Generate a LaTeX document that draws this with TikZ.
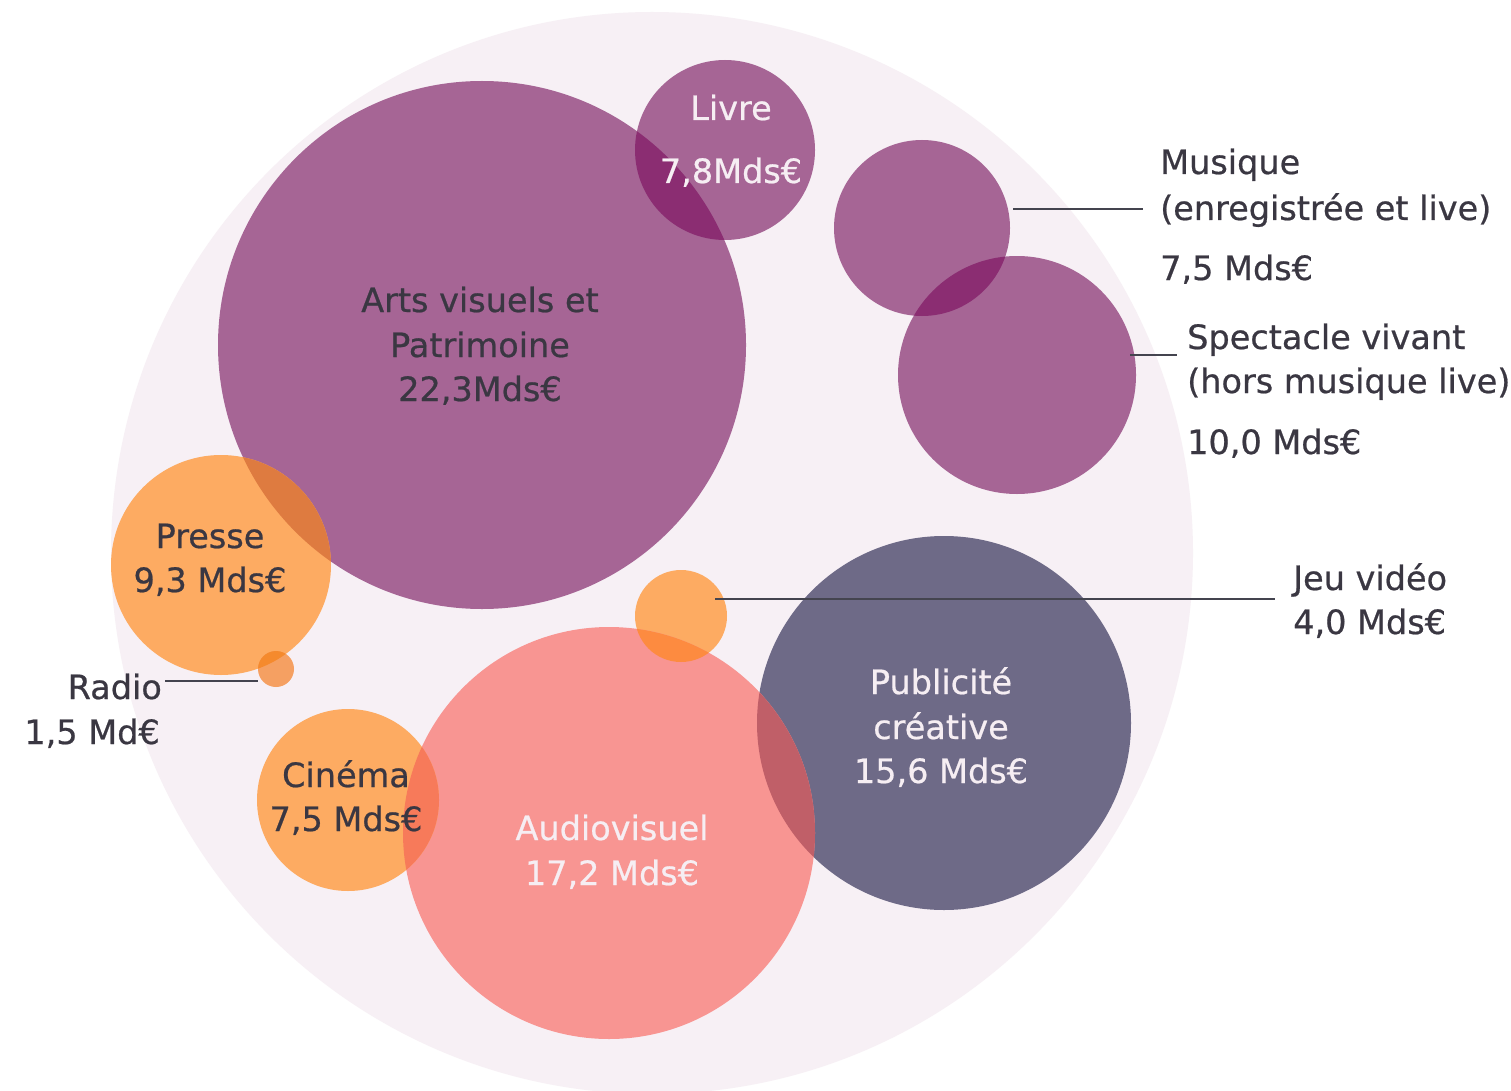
\documentclass[tikz,border=0pt]{standalone}
\usepackage{fontspec}
\setmainfont{DejaVu Sans}
\newfontfamily\medfont{DejaVu Sans}[UprightFeatures={FakeBold=0.6}]
\definecolor{bgpink}{HTML}{F7F0F5}
\definecolor{purp}{HTML}{A66595}
\definecolor{purpdark}{HTML}{8B2D72}
\definecolor{orng}{HTML}{FDAB62}
\definecolor{orngpurp}{HTML}{DE7B40}
\definecolor{radioc}{HTML}{F5A062}
\definecolor{radiopresse}{HTML}{F58A2D}
\definecolor{jeuaudio}{HTML}{FD8B40}
\definecolor{audio}{HTML}{F89592}
\definecolor{cineaudio}{HTML}{F77A5A}
\definecolor{pub}{HTML}{6E6A87}
\definecolor{pubaudio}{HTML}{C05F68}
\definecolor{txtdark}{HTML}{3A3742}
\definecolor{txtlight}{HTML}{F6EEF3}
\definecolor{leadc}{HTML}{44444F}
\newcommand{\bubblefont}{\medfont\fontsize{33.5}{45}\selectfont}
\begin{document}
\begin{tikzpicture}[x=1pt,y=-1pt,
  bubble/.style={circle, inner sep=0pt, minimum size=#1},
  lbl/.style={font=\bubblefont, text=txtdark, inner sep=0pt},
  lbllight/.style={lbl, text=txtlight},
  leader/.style={draw=leadc, line width=2.8pt}]
\useasboundingbox (0,0) rectangle (1511,1091);
\clip (0,0) rectangle (1511,1091);
\fill[white] (0,0) rectangle (1511,1091);
% background circle
\node[bubble=1082pt, fill=bgpink] (bg) at (652,553) {};
% bubbles
\node[bubble=528pt, fill=purp] (arts) at (482,345) {};
\node[bubble=180pt, fill=purp] (livre) at (725,150) {};
\node[bubble=176pt, fill=purp] (musique) at (922,228) {};
\node[bubble=238pt, fill=purp] (spectacle) at (1017,375) {};
\node[bubble=220pt, fill=orng] (presse) at (221,565) {};
\node[bubble=36pt, fill=radioc] (radio) at (276,669) {};
\node[bubble=92pt, fill=orng] (jeu) at (681,616) {};
\node[bubble=374pt, fill=pub] (pub) at (944,723) {};
\node[bubble=412pt, fill=audio] (audio) at (609,833) {};
\node[bubble=182pt, fill=orng] (cinema) at (348,800) {};
% overlaps
\begin{scope}
  \clip (arts.center) circle (264pt);
  \fill[purpdark] (livre.center) circle (90pt);
  \fill[orngpurp] (presse.center) circle (110pt);
\end{scope}
\begin{scope}
  \clip (musique.center) circle (88pt);
  \fill[purpdark] (spectacle.center) circle (119pt);
\end{scope}
\begin{scope}
  \clip (presse.center) circle (110pt);
  \fill[radiopresse] (radio.center) circle (18pt);
\end{scope}
\begin{scope}
  \clip (audio.center) circle (206pt);
  \fill[jeuaudio] (jeu.center) circle (46pt);
  \fill[cineaudio] (cinema.center) circle (91pt);
  \fill[pubaudio] (pub.center) circle (187pt);
\end{scope}
% labels
\node[lbllight, anchor=base] (livre1) at (731,120) {Livre};
\node[lbllight, anchor=base] (livre2) at (731,183) {7,8Mds€};
\node[lbl, anchor=base] (arts1) at (480,312) {Arts visuels et};
\node[lbl, anchor=base] (arts2) at (480,357) {Patrimoine};
\node[lbl, anchor=base] (arts3) at (480,401) {22,3Mds€};
\node[lbl, anchor=base west] (mus1) at (1160,174) {Musique};
\node[lbl, anchor=base west] (mus2) at (1160,220) {(enregistrée et live)};
\node[lbl, anchor=base west] (mus3) at (1160,280) {7,5 Mds€};
\node[lbl, anchor=base west] (spec1) at (1187,349) {Spectacle vivant};
\node[lbl, anchor=base west] (spec2) at (1187,393) {(hors musique live)};
\node[lbl, anchor=base west] (spec3) at (1187,454) {10,0 Mds€};
\node[lbl, anchor=base] (presse1) at (210,548) {Presse};
\node[lbl, anchor=base] (presse2) at (210,592) {9,3 Mds€};
\node[lbl, anchor=base east] (radio1) at (162,699) {Radio};
\node[lbl, anchor=base east] (radio2) at (160,744) {1,5 Md€};
\node[lbl, anchor=base west] (jeu1) at (1293,590) {Jeu vidéo};
\node[lbl, anchor=base west] (jeu2) at (1293,634) {4,0 Mds€};
\node[lbllight, anchor=base] (pub1) at (941,694) {Publicité};
\node[lbllight, anchor=base] (pub2) at (941,739) {créative};
\node[lbllight, anchor=base] (pub3) at (941,783) {15,6 Mds€};
\node[lbl, anchor=base] (cine1) at (346,787) {Cinéma};
\node[lbl, anchor=base] (cine2) at (346,831) {7,5 Mds€};
\node[lbllight, anchor=base] (audio1) at (612,840) {Audiovisuel};
\node[lbllight, anchor=base] (audio2) at (612,885) {17,2 Mds€};
% leader lines
\coordinate (musA) at (1013,209);
\coordinate (specA) at (1130,355);
\coordinate (jeuA) at (715,599);
\coordinate (radioA) at (258,681);
\draw[leader] (musA) -- ([xshift=-17pt]musA -| mus2.west);
\draw[leader] (specA) -- ([xshift=-10pt]specA -| spec1.west);
\draw[leader] (jeuA) -- ([xshift=-18pt]jeuA -| jeu1.west);
\draw[leader] ([xshift=3pt]radioA -| radio1.east) -- (radioA);
\end{tikzpicture}
\end{document}
